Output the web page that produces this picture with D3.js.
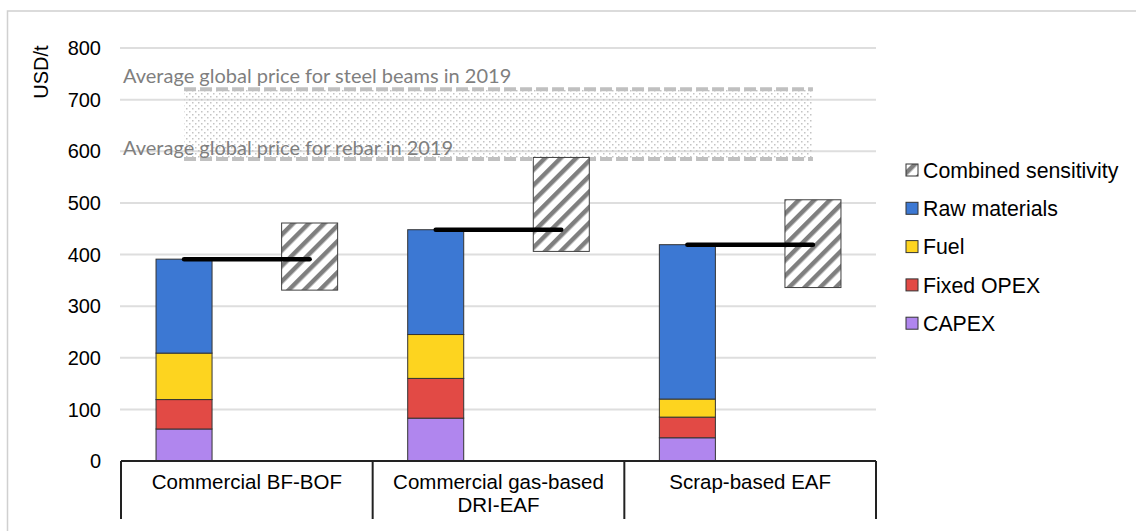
<!DOCTYPE html>
<html>
<head>
<meta charset="utf-8">
<script src="https://cdn.jsdelivr.net/npm/d3@7/dist/d3.min.js"></script>
<style>
  html, body { margin: 0; padding: 0; background: #fff; }
  svg { display: block; }
  text { font-family: 'Liberation Sans', Arial, sans-serif; fill: #000; }
  .price-label { font-family: Lato, 'Open Sans', sans-serif; fill: #7f7f7f; }
</style>
</head>
<body>
<svg id="chart"></svg>
<script>
// 数据
const categories = ['Commercial BF-BOF', 'Commercial gas-based\nDRI-EAF', 'Scrap-based EAF']
const capex = [62, 83, 45]
const fixedOpex = [57, 77, 40]
const fuel = [90, 85, 35]
const rawMaterials = [182, 203, 299]
const sensLow = [331, 406, 336]
const sensHigh = [461, 588, 506]
const priceRebar = 585
const priceBeams = 720
const yTicks = [0, 100, 200, 300, 400, 500, 600, 700, 800]

const seriesNames = ['CAPEX', 'Fixed OPEX', 'Fuel', 'Raw materials']
const seriesColors = ['#b086ee', '#e24a45', '#fdd41f', '#3c78d3']
const legendItems = ['Combined sensitivity', 'Raw materials', 'Fuel', 'Fixed OPEX', 'CAPEX']

const width = 1136
const height = 531

const svg = d3.select('#chart')
  .attr('width', width)
  .attr('height', height)

const defs = svg.append('defs')

// 斜线填充
const hatch = defs.append('pattern')
  .attr('id', 'hatch')
  .attr('patternUnits', 'userSpaceOnUse')
  .attr('width', 11)
  .attr('height', 11)
  .attr('patternTransform', 'rotate(45)')
hatch.append('rect').attr('width', 11).attr('height', 11).attr('fill', '#fff')
hatch.append('rect').attr('x', 0).attr('y', 0).attr('width', 4.5).attr('height', 11).attr('fill', '#7f7f7f')

// 点状填充
const dots = defs.append('pattern')
  .attr('id', 'dots')
  .attr('patternUnits', 'userSpaceOnUse')
  .attr('width', 6)
  .attr('height', 6)
dots.append('rect').attr('x', 0).attr('y', 0).attr('width', 1.5).attr('height', 1.5).attr('fill', '#c4c4c4')
dots.append('rect').attr('x', 3).attr('y', 3).attr('width', 1.5).attr('height', 1.5).attr('fill', '#c4c4c4')

// 外框
svg.append('path')
  .attr('d', `M${width},11 H7.5 V${height}`)
  .attr('fill', 'none')
  .attr('stroke', '#d0d0d0')
  .attr('stroke-width', 1.5)

const x0 = d3.scaleBand()
  .domain(categories)
  .range([121, 876])

const x1 = d3.scaleBand()
  .domain(['cost', 'sens'])
  .range([0, x0.bandwidth()])
  .paddingInner(0.554)
  .paddingOuter(0.279)

const y = d3.scaleLinear()
  .domain([0, 800])
  .range([461, 48])

// 网格线
svg.append('g')
  .selectAll('line')
  .data(yTicks.filter(d => d > 0))
  .enter().append('line')
  .attr('x1', 120)
  .attr('x2', 876)
  .attr('y1', d => y(d))
  .attr('y2', d => y(d))
  .attr('stroke', '#dedede')
  .attr('stroke-width', 2)

// y 轴刻度
svg.append('g')
  .selectAll('text')
  .data(yTicks)
  .enter().append('text')
  .attr('x', 101)
  .attr('y', d => y(d))
  .attr('dy', '0.36em')
  .attr('text-anchor', 'end')
  .style('font-size', '20px')
  .text(d => d)

svg.append('text')
  .attr('transform', 'translate(48,72) rotate(-90)')
  .attr('text-anchor', 'middle')
  .style('font-size', '20px')
  .text('USD/t')

// 价格区间
const bandLeft = x0(categories[0]) + x1('cost') + x1.bandwidth() / 2
const bandRight = x0(categories[2]) + x1('sens') + x1.bandwidth() / 2

svg.append('rect')
  .attr('x', bandLeft)
  .attr('y', y(priceBeams))
  .attr('width', bandRight - bandLeft)
  .attr('height', y(priceRebar) - y(priceBeams))
  .attr('fill', 'url(#dots)')

svg.append('g')
  .selectAll('line')
  .data([priceBeams, priceRebar])
  .enter().append('line')
  .attr('x1', bandLeft)
  .attr('x2', bandRight)
  .attr('y1', d => y(d))
  .attr('y2', d => y(d))
  .attr('stroke', '#c0c0c0')
  .attr('stroke-width', 4)
  .attr('stroke-dasharray', '12 4')

svg.append('text')
  .attr('class', 'price-label')
  .attr('x', 123)
  .attr('y', y(priceBeams) - 6)
  .style('font-size', '20px')
  .text('Average global price for steel beams in 2019')

svg.append('text')
  .attr('class', 'price-label')
  .attr('x', 123)
  .attr('y', y(priceRebar) - 4)
  .style('font-size', '20px')
  .text('Average global price for rebar in 2019')

// 堆叠柱
const table = categories.map((c, i) => ({
  category: c,
  'CAPEX': capex[i],
  'Fixed OPEX': fixedOpex[i],
  'Fuel': fuel[i],
  'Raw materials': rawMaterials[i]
}))
const stacked = d3.stack().keys(seriesNames)(table)

svg.append('g')
  .selectAll('g')
  .data(stacked)
  .enter().append('g')
  .attr('fill', (d, i) => seriesColors[i])
  .selectAll('rect')
  .data(d => d)
  .enter().append('rect')
  .attr('x', d => x0(d.data.category) + x1('cost'))
  .attr('y', d => y(d[1]))
  .attr('width', x1.bandwidth())
  .attr('height', d => y(d[0]) - y(d[1]))
  .attr('stroke', '#333')
  .attr('stroke-width', 1)

// 敏感性区间
svg.append('g')
  .selectAll('rect')
  .data(categories)
  .enter().append('rect')
  .attr('x', d => x0(d) + x1('sens'))
  .attr('y', (d, i) => y(sensHigh[i]))
  .attr('width', x1.bandwidth())
  .attr('height', (d, i) => y(sensLow[i]) - y(sensHigh[i]))
  .attr('fill', 'url(#hatch)')
  .attr('stroke', '#404040')
  .attr('stroke-width', 1)

// 总成本线
const total = i => capex[i] + fixedOpex[i] + fuel[i] + rawMaterials[i]
svg.append('g')
  .selectAll('line')
  .data(categories)
  .enter().append('line')
  .attr('x1', d => x0(d) + x1('cost') + x1.bandwidth() / 2)
  .attr('x2', d => x0(d) + x1('sens') + x1.bandwidth() / 2)
  .attr('y1', (d, i) => y(total(i)))
  .attr('y2', (d, i) => y(total(i)))
  .attr('stroke', '#000')
  .attr('stroke-width', 4.5)
  .attr('stroke-linecap', 'round')

// x 轴表格
const axis = svg.append('g')
axis.append('line')
  .attr('x1', 121)
  .attr('x2', 876)
  .attr('y1', y(0))
  .attr('y2', y(0))
  .attr('stroke', '#222')
  .attr('stroke-width', 2)

axis.selectAll('.sep')
  .data([...categories.map(c => x0(c)), x0.range()[1]])
  .enter().append('line')
  .attr('class', 'sep')
  .attr('x1', d => d)
  .attr('x2', d => d)
  .attr('y1', y(0))
  .attr('y2', 519)
  .attr('stroke', '#222')
  .attr('stroke-width', 2)

axis.selectAll('.cat')
  .data(categories)
  .enter().append('text')
  .attr('class', 'cat')
  .attr('x', d => x0(d) + x0.bandwidth() / 2)
  .attr('y', 489)
  .attr('text-anchor', 'middle')
  .style('font-size', '20.5px')
  .selectAll('tspan')
  .data(d => d.split('\n'))
  .enter().append('tspan')
  .attr('x', function () { return this.parentNode.getAttribute('x') })
  .attr('dy', (d, i) => i === 0 ? 0 : 23)
  .text(d => d)

// 图例
const legend = svg.append('g')
  .selectAll('g')
  .data(legendItems)
  .enter().append('g')
  .attr('transform', (d, i) => `translate(906,${170 + i * 38.3})`)

legend.append('rect')
  .attr('x', 0)
  .attr('y', -6)
  .attr('width', 12)
  .attr('height', 12)
  .attr('fill', d => d === 'Combined sensitivity' ? 'url(#hatch)' : seriesColors[seriesNames.indexOf(d)])
  .attr('stroke', '#333')
  .attr('stroke-width', 1)

legend.append('text')
  .attr('x', 17)
  .attr('y', 0)
  .attr('dy', '0.36em')
  .style('font-size', '21.3px')
  .text(d => d)
</script>
</body>
</html>
